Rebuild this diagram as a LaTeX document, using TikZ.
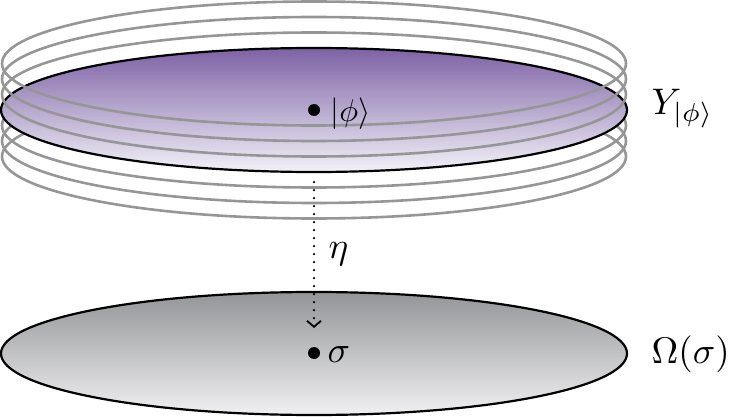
\documentclass[tikz,border=0pt]{standalone}
\usetikzlibrary{shapes.geometric,arrows.meta}
\definecolor{ringgray}{RGB}{150,150,150}
\definecolor{purpletop}{RGB}{125,98,165}
\definecolor{purplebot}{RGB}{243,241,248}
\definecolor{graytop}{RGB}{148,149,152}
\definecolor{graybot}{RGB}{240,240,242}
\begin{document}
\begin{tikzpicture}[x=1pt,y=-1pt,
  ring/.style={draw=ringgray,line width=2.6pt},
  disk/.style={ellipse,draw=black,line width=2.2pt,inner sep=0pt,minimum width=626pt,minimum height=124pt},
  dotnode/.style={circle,fill=black,inner sep=0pt,minimum size=12pt},
  lbl/.style={inner sep=0pt,anchor=base west,scale=3.7},
  ]
\useasboundingbox (0,0) rectangle (747,417);
% lower rings (behind the disk)
\foreach \dy in {15.5,31,46.5}
  \draw[ring] (314,{110+\dy}) ellipse [x radius=312, y radius=62];
% purple disk
\node[disk, top color=purpletop, bottom color=purplebot] (topdisk) at (314,110) {};
% upper rings (in front)
\foreach \dy in {15.5,31,46.5}
  \draw[ring] (314,{110-\dy}) ellipse [x radius=312, y radius=62];
% gray disk
\node[disk, minimum height=123pt, top color=graytop, bottom color=graybot] (botdisk) at (314,353.5) {};
% points and labels
\node[dotnode] (phidot) at (314,110) {};
\node[lbl, scale=3.15/3.7] (phi) at (330,122) {$|\phi\rangle$};
\node[dotnode] (sigmadot) at (314,353) {};
\node[lbl] (sigma) at (327,362) {$\sigma$};
\node[lbl] (eta) at (328,258) {$\eta$};
\node[lbl] (Ylab) at (651,115) {$Y_{|\phi\rangle}$};
\node[lbl] (Omegalab) at (651,363) {$\Omega(\sigma)$};
% dotted arrow
\draw[line width=2.5pt, line cap=round, dash pattern=on 0pt off 8pt,
  -{Straight Barb[length=6pt,width=14pt,line width=1.8pt]}]
  ([yshift=-9pt]topdisk.south) -- ([yshift=25pt]sigmadot.center);
\end{tikzpicture}
\end{document}
